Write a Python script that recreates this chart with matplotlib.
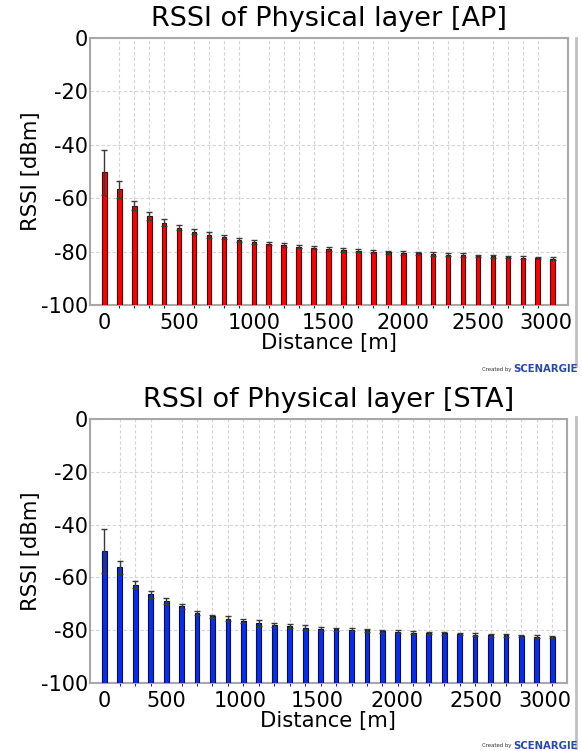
import matplotlib
matplotlib.use("Agg")
import matplotlib.pyplot as plt
import matplotlib.transforms as mtransforms
from matplotlib.lines import Line2D

plt.rcParams['font.family'] = ['DejaVu Sans']

# ---------------- data ----------------
ap_distance = [0, 100, 200, 300, 400, 500, 600, 700, 800, 900, 1000,
               1100, 1200, 1300, 1400, 1500, 1600, 1700, 1800, 1900, 2000,
               2100, 2200, 2300, 2400, 2500, 2600, 2700, 2800, 2900, 3000]
ap_rssi = [-50.3, -56.7, -62.8, -66.7, -69.2, -71.0, -72.5, -73.8, -74.6, -75.6,
           -76.3, -77.0, -77.6, -78.1, -78.5, -79.0, -79.4, -79.6, -80.0, -80.3,
           -80.5, -80.7, -80.9, -81.1, -81.3, -81.6, -81.8, -82.0, -82.3, -82.4, -82.6]
ap_err = [8.4, 3.1, 1.7, 1.5, 1.3, 1.0, 1.0, 1.1, 0.7, 0.7,
          0.7, 0.7, 0.7, 0.7, 0.7, 0.6, 0.6, 0.6, 0.6, 0.6,
          0.6, 0.6, 0.6, 0.6, 0.6, 0.5, 0.5, 0.5, 0.5, 0.5, 0.5]

sta_index = list(range(30))
sta_rssi = [-49.9, -56.2, -62.7, -66.4, -68.9, -70.9, -73.6, -74.7, -75.7, -76.5,
            -77.3, -78.0, -78.5, -79.0, -79.4, -79.6, -79.8, -80.1, -80.4, -80.6,
            -80.9, -81.1, -81.2, -81.5, -81.7, -81.9, -82.0, -82.2, -82.4, -82.6]
sta_err = [8.4, 2.6, 1.5, 1.4, 1.0, 1.0, 0.8, 0.6, 0.9, 0.7,
           1.0, 0.8, 0.8, 0.8, 0.8, 0.6, 0.5, 0.5, 0.5, 0.5,
           0.5, 0.5, 0.5, 0.5, 0.5, 0.5, 0.5, 0.5, 0.5, 0.5]

x_tick_labels = ["0", "500", "1000", "1500", "2000", "2500", "3000"]
y_ticks = [0, -20, -40, -60, -80, -100]
y_tick_labels = ["0", "-20", "-40", "-60", "-80", "-100"]
y_floor = -100

titles = ["RSSI of Physical layer [AP]", "RSSI of Physical layer [STA]"]
ylabel = "RSSI [dBm]"
xlabel = "Distance [m]"

# ---------------- layout ----------------
W, H = 582, 751
fig = plt.figure(figsize=(W / 100, H / 100), dpi=100)

ax1 = fig.add_axes([90 / W, 1 - 305 / H, 478 / W, 267 / H])
ax2 = fig.add_axes([90 / W, 1 - 683 / H, 477 / W, 264 / H])

spine_c = '#a8a8a8'
grid_c = '#d4d4d4'


def style(ax, title):
    ax.set_ylim(-100, 0)
    ax.set_yticks(y_ticks)
    ax.set_yticklabels(y_tick_labels)
    for s in ax.spines.values():
        s.set_color(spine_c)
        s.set_linewidth(1.5)
    ax.tick_params(axis='both', length=0, labelsize=15, colors='black')
    ax.tick_params(axis='y', pad=1.5)
    ax.tick_params(axis='x', pad=5.5)
    ax.grid(True, axis='y', color=grid_c, linestyle=(0, (3, 2)), linewidth=0.8)
    ax.set_axisbelow(True)
    ax.set_title(title, fontsize=19.5, pad=9)
    ax.set_ylabel(ylabel, fontsize=15.2, labelpad=0)
    ax.set_xlabel(xlabel, fontsize=15.2, labelpad=0)


def heights(values):
    return [v - y_floor for v in values]


# top chart (AP)
ax1.set_xlim(-96, 3102)
ax1.bar(ap_distance, heights(ap_rssi), width=31, bottom=y_floor, color='#ff0000',
        edgecolor='#4a0000', linewidth=0.8, zorder=3)
ax1.errorbar(ap_distance, ap_rssi, yerr=ap_err, fmt='none', ecolor='#3a3a3a',
             elinewidth=1.0, capsize=2.2, capthick=1.0, zorder=4)
ax1.set_xticks(ap_distance, minor=True)
ax1.set_xticks([0, 500, 1000, 1500, 2000, 2500, 3000])
ax1.set_xticklabels(x_tick_labels)
ax1.grid(True, which='minor', axis='x', color=grid_c, linestyle=(0, (3, 2)), linewidth=0.8)
style(ax1, titles[0])

# bottom chart (STA)
ax2.set_xlim(-0.93, 29.95)
ax2.bar(sta_index, heights(sta_rssi), width=0.31, bottom=y_floor, color='#0a2cf0',
        edgecolor='#00104a', linewidth=0.8, zorder=3)
ax2.errorbar(sta_index, sta_rssi, yerr=sta_err, fmt='none', ecolor='#3a3a3a',
             elinewidth=1.0, capsize=2.2, capthick=1.0, zorder=4)
ax2.set_xticks(sta_index, minor=True)
ax2.set_xticks([0, 4.0, 8.8, 13.75, 18.95, 24.05, 28.5])
ax2.set_xticklabels(x_tick_labels)
ax2.grid(True, which='minor', axis='x', color=grid_c, linestyle=(0, (3, 2)), linewidth=0.8)
style(ax2, titles[1])

# shift last "3000" label of the top chart to fit inside
lbl = ax1.get_xticklabels()[-1]
lbl.set_transform(lbl.get_transform() + mtransforms.ScaledTranslation(-7 / 100, 0, fig.dpi_scale_trans))

# panel edge lines on the right
fig.add_artist(Line2D([576 / W, 576 / W], [1 - 38 / H, 1 - 366 / H], color='#c0c0c0', linewidth=2))
fig.add_artist(Line2D([576 / W, 576 / W], [1 - 417 / H, 1 - 748 / H], color='#c0c0c0', linewidth=2))

# "Created by SCENARGIE" marks
for ytop in (369, 746):
    fig.text(511 / W, 1 - ytop / H, "Created by", fontsize=3.9, color='#303030',
             ha='right', va='center')
    fig.text(513 / W, 1 - ytop / H, "SCENARGIE", fontsize=7.3, color='#2848b0',
             ha='left', va='center', fontweight='bold')

fig.savefig("out.png", dpi=100)
